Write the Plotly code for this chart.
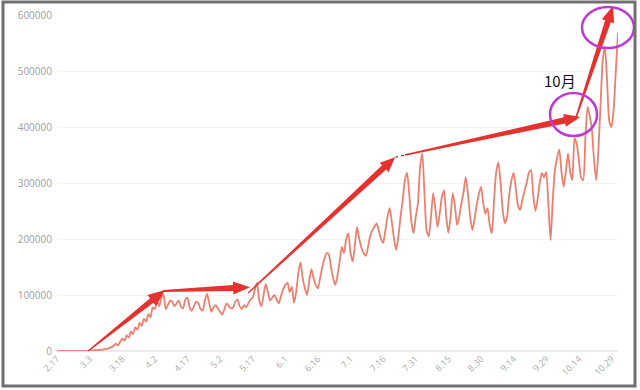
import math
import pandas as pd
import plotly.graph_objects as go

# ---------------- data ----------------
START_DATE = "2020-02-17"
VALUES = [
    0, 0, 0, 0, 0, 0, 0, 0, 0, 0,
    0, 0, 0, 0, 0, 800, 1000, 1200, 1500, 1800,
    2200, 2600, 3200, 4000, 5000, 7000, 9000, 13000, 10000, 16000,
    22000, 18000, 28000, 24000, 35000, 30000, 42000, 38000, 50000, 45000,
    58000, 52000, 66000, 60000, 78000, 75000, 90000, 80000, 95000, 100000,
    75000, 82000, 90000, 88000, 80000, 85000, 90000, 80000, 76000, 92000,
    95000, 78000, 72000, 80000, 88000, 85000, 75000, 72000, 90000, 102000,
    85000, 70000, 78000, 82000, 76000, 70000, 65000, 75000, 85000, 80000,
    76000, 78000, 88000, 92000, 80000, 75000, 82000, 78000, 85000, 92000,
    95000, 110000, 122000, 90000, 80000, 100000, 120000, 105000, 90000, 95000,
    100000, 92000, 85000, 98000, 110000, 118000, 122000, 105000, 115000, 86000,
    105000, 140000, 158000, 130000, 112000, 100000, 125000, 146000, 130000, 118000,
    112000, 130000, 150000, 165000, 175000, 172000, 150000, 130000, 118000, 135000,
    160000, 186000, 175000, 200000, 210000, 175000, 160000, 190000, 221000, 200000,
    185000, 175000, 170000, 185000, 205000, 215000, 222000, 228000, 215000, 200000,
    193000, 215000, 240000, 255000, 230000, 200000, 180000, 205000, 240000, 270000,
    305000, 318000, 280000, 230000, 210000, 240000, 264000, 330000, 353000, 280000,
    215000, 205000, 240000, 282000, 255000, 221000, 245000, 275000, 287000, 240000,
    211000, 240000, 282000, 260000, 225000, 240000, 264000, 285000, 311000, 280000,
    240000, 216000, 235000, 260000, 280000, 293000, 265000, 245000, 255000, 225000,
    210000, 270000, 320000, 337000, 300000, 250000, 228000, 240000, 280000, 305000,
    318000, 290000, 260000, 252000, 270000, 285000, 300000, 318000, 323000, 280000,
    250000, 270000, 300000, 318000, 310000, 320000, 260000, 198000, 270000, 323000,
    345000, 360000, 320000, 293000, 320000, 353000, 320000, 305000, 380000, 370000,
    341000, 310000, 305000, 380000, 436000, 420000, 395000, 340000, 305000, 360000,
    443000, 520000, 543000, 480000, 410000, 400000, 430000, 500000, 568000,
]
TICK_LABELS = ["2.17", "3.3", "3.18", "4.2", "4.17", "5.2", "5.17", "6.1", "6.16",
               "7.1", "7.16", "7.31", "8.15", "8.30", "9.14", "9.29", "10.14", "10.29"]
Y_TICKS = [0, 100000, 200000, 300000, 400000, 500000, 600000]

dates = pd.date_range(START_DATE, periods=len(VALUES), freq="D")
CATEGORIES = [f"{d.month}.{d.day}" for d in dates]

# ---------------- layout geometry ----------------
W, H = 640, 390
ML, MR, MT, MB = 57, 22, 15, 39
X_MAX = len(VALUES) - 1
Y_MAX = 600000


def data2px(d, v):
    px = ML + d / X_MAX * (W - ML - MR)
    py = (H - MB) - v / Y_MAX * (H - MT - MB)
    return px, py


def px2paper(px, py):
    return (px - ML) / (W - ML - MR), (H - MB - py) / (H - MT - MB)


def arrow_path(p0, p1, w0=1.5, w1=6.0, hw=15.0, hl=17.0):
    (x0, y0), (x1, y1) = p0, p1
    L = math.hypot(x1 - x0, y1 - y0)
    ux, uy = (x1 - x0) / L, (y1 - y0) / L
    nx, ny = -uy, ux
    bx, by = x1 - ux * hl, y1 - uy * hl
    pts = [
        (x0 + nx * w0 / 2, y0 + ny * w0 / 2),
        (bx + nx * w1 / 2, by + ny * w1 / 2),
        (bx + nx * hw / 2, by + ny * hw / 2),
        (x1, y1),
        (bx - nx * hw / 2, by - ny * hw / 2),
        (bx - nx * w1 / 2, by - ny * w1 / 2),
        (x0 - nx * w0 / 2, y0 - ny * w0 / 2),
    ]
    s = ""
    for i, (px, py) in enumerate(pts):
        a, b = px2paper(px, py)
        s += ("M" if i == 0 else "L") + f"{a:.5f},{b:.5f} "
    return s + "Z"


# arrow annotations given in (day index, value) units
ARROWS = [
    ((14.3, 0), (49.7, 109000), 1.2, 5.5, 14, 17),
    ((48.8, 107000), (88.8, 114000), 2.0, 6.0, 13, 17),
    ((87.9, 103600), (155.5, 346000), 1.2, 6.0, 13, 15),
    ((160.0, 350000), (240.6, 418000), 1.5, 6.5, 13, 16),
    ((238.3, 412000), (255.7, 616000), 1.5, 6.0, 13, 16),
]

fig = go.Figure()
fig.add_trace(go.Scatter(
    x=CATEGORIES, y=VALUES, mode="lines",
    line=dict(color="#EC7F6D", width=1.8, shape="spline", smoothing=0.6),
    hoverinfo="skip", showlegend=False,
))

shapes = []
for t, h, w0, w1, hw, hl in ARROWS:
    shapes.append(dict(
        type="path", xref="paper", yref="paper",
        path=arrow_path(data2px(*t), data2px(*h), w0, w1, hw, hl),
        fillcolor="#E5322F", line=dict(width=0), layer="above",
    ))

# thin dashed joint between arrow 3 and arrow 4
a0 = px2paper(*data2px(155.5, 346000))
a1 = px2paper(*data2px(161.5, 351000))
shapes.append(dict(type="line", xref="paper", yref="paper", x0=a0[0], y0=a0[1],
                   x1=a1[0], y1=a1[1], line=dict(color="#B22222", width=1.2, dash="dot")))

# ellipses (pixel boxes converted to paper)
for (xa, ya, xb, yb) in [(550, 93, 597, 136), (582, 7, 634, 48)]:
    p0 = px2paper(xa, yb)
    p1 = px2paper(xb, ya)
    shapes.append(dict(type="circle", xref="paper", yref="paper",
                       x0=p0[0], y0=p0[1], x1=p1[0], y1=p1[1],
                       line=dict(color="#BC3AD0", width=2.5)))

# outer frame
f0 = px2paper(3, 386)
f1 = px2paper(635, 2)
shapes.append(dict(type="rect", xref="paper", yref="paper",
                   x0=f0[0], y0=f0[1], x1=f1[0], y1=f1[1],
                   line=dict(color="#707070", width=3)))

tx, ty = px2paper(560, 80)
annotations = [dict(
    x=tx, y=ty, xref="paper", yref="paper", text="10月", showarrow=False,
    xanchor="center", yanchor="middle",
    font=dict(family="Noto Sans CJK SC", size=15, color="#111111"),
)]

fig.update_layout(
    width=W, height=H,
    margin=dict(l=ML, r=MR, t=MT, b=MB),
    paper_bgcolor="white", plot_bgcolor="white",
    shapes=shapes, annotations=annotations,
    xaxis=dict(
        type="category", range=[0, X_MAX],
        tickmode="array", tickvals=TICK_LABELS, ticktext=TICK_LABELS,
        tickangle=-45, tickfont=dict(family="Open Sans", size=9, color="#ABABAB"),
        showgrid=False, zeroline=False, showline=False, ticks="",
        automargin=False,
    ),
    yaxis=dict(
        range=[0, Y_MAX], tickvals=Y_TICKS, ticktext=[str(v) for v in Y_TICKS],
        tickfont=dict(family="Open Sans", size=10, color="#A0A0A0"),
        showgrid=True, gridcolor="#F2F2F2", gridwidth=1,
        zeroline=True, zerolinecolor="#EDEDED", showline=False, ticks="",
        ticklabelstandoff=4, automargin=False,
    ),
)

fig.write_html("out.html")
